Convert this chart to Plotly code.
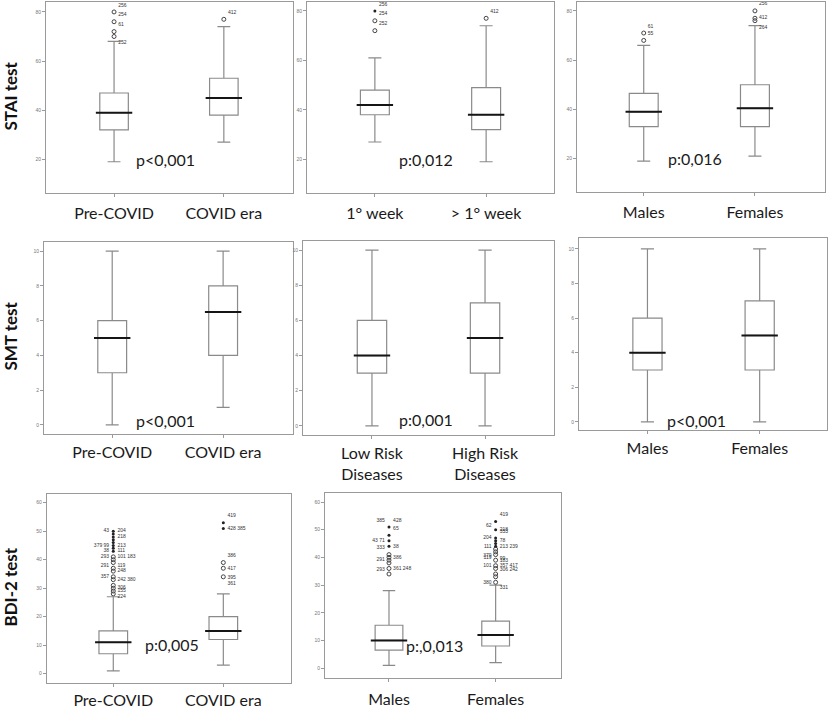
import plotly.graph_objects as go

W, H = 829, 709

# ---------------- DATA ----------------
# Row 1: STAI test
p1_cats = ["Pre-COVID", "COVID era"]
p1_low = [19, 27]
p1_q1 = [32, 38]
p1_med = [39, 45]
p1_q3 = [47, 53]
p1_high = [68, 74]
p1_mild = [[70, 72, 76, 80], [77]]
p1_ext = [[], []]
p1_labels = [[(70, "252", "bottom right"), (72, "61", "top right"), (76, "254", "top right"), (80, "256", "top right")],
             [(77, "412", "top right")]]

p2_cats = ["1° week", "> 1° week"]
p2_low = [27, 19]
p2_q1 = [38, 32]
p2_med = [42, 38]
p2_q3 = [48, 49]
p2_high = [61, 74]
p2_mild = [[72, 76], [77]]
p2_ext = [[80], []]
p2_labels = [[(72, "252", "top right"), (76, "254", "top right"), (80, "256", "top right")],
             [(77, "412", "top right")]]

p3_cats = ["Males", "Females"]
p3_low = [19, 21]
p3_q1 = [33, 33]
p3_med = [39, 40.5]
p3_q3 = [46.5, 50]
p3_high = [66, 74]
p3_mild = [[68, 71], [76, 77, 80]]
p3_ext = [[], []]
p3_labels = [[(68, "55", "top right"), (71, "61", "top right")],
             [(76, "264", "bottom right"), (77, "412", "middle right"), (80, "256", "top right")]]

# Row 2: SMT test
p4_cats = ["Pre-COVID", "COVID era"]
p4_low = [0, 1]
p4_q1 = [3, 4]
p4_med = [5, 6.5]
p4_q3 = [6, 8]
p4_high = [10, 10]

p5_cats = ["Low Risk<br>Diseases", "High Risk<br>Diseases"]
p5_low = [0, 0]
p5_q1 = [3, 3]
p5_med = [4, 5]
p5_q3 = [6, 7]
p5_high = [10, 10]

p6_cats = ["Males", "Females"]
p6_low = [0, 0]
p6_q1 = [3, 3]
p6_med = [4, 5]
p6_q3 = [6, 7]
p6_high = [10, 10]

# Row 3: BDI-2 test
p7_cats = ["Pre-COVID", "COVID era"]
p7_low = [1, 3]
p7_q1 = [7, 12]
p7_med = [11, 15]
p7_q3 = [15, 20]
p7_high = [27, 28]
p7_mild = [[28, 29, 30, 31, 33, 34, 36, 37, 39, 40, 41], [34, 37, 39]]
p7_ext = [[43, 44, 45, 46, 47, 48, 49, 50], [51, 53]]
p7_labels = [[(50, "43", "middle left"), (50, "204", "middle right"), (48, "218", "middle right"),
              (45, "379 99", "middle left"), (45, "213", "middle right"), (43, "38", "middle left"),
              (43, "111", "middle right"), (41, "293", "middle left"), (41, "101 183", "middle right"),
              (38, "291", "middle left"), (38, "119", "middle right"), (36, "248", "middle right"),
              (34, "357", "middle left"), (33, "242 380", "middle right"), (30, "306", "middle right"),
              (29, "155", "middle right"), (27, "224", "middle right")],
             [(53, "419", "top right"), (51, "428 385", "middle right"), (39, "386", "top right"),
              (37, "417", "middle right"), (36, "395", "bottom right"), (34, "361", "bottom right")]]

p8_cats = ["Males", "Females"]
p8_low = [1, 2]
p8_q1 = [6.5, 8]
p8_med = [10, 12]
p8_q3 = [15.5, 17]
p8_high = [28, 30]
p8_mild = [[34, 36, 38, 39, 40, 41], [31, 33, 34, 36, 37, 39, 41, 42, 43]]
p8_ext = [[44, 46, 48, 51], [44, 45, 46, 47, 50, 53]]
p8_labels = [[(51, "385", "top left"), (51, "428", "top right"), (48, "65", "top right"),
              (46, "43 71", "middle left"), (44, "38", "middle right"), (41, "333", "top left"),
              (40, "386", "middle right"), (39, "291", "middle left"), (38, "293", "bottom left"),
              (36, "361 248", "middle right")],
             [(53, "419", "top right"), (50, "218", "middle right"), (49, "62", "top left"),
              (47, "204", "middle left"), (47, "353", "top right"), (46, "78", "middle right"),
              (44, "111", "middle left"), (43, "379", "bottom left"), (44, "213 239", "middle right"),
              (42, "99", "bottom right"), (40, "119", "middle left"), (41, "183", "bottom right"),
              (37, "101", "middle left"), (37, "357 417", "middle right"), (33, "306 242", "top right"),
              (31, "380", "middle left"), (29, "331", "middle right")]]

p_texts = ["p<0,001", "p:0,012", "p:0,016", "p<0,001", "p:0,001", "p<0,001", "p:0,005", "p:,0,013"]
row_titles = ["STAI test", "SMT test", "BDI-2 test"]

# ---------------- LAYOUT CONFIG ----------------
panels = [
    dict(cats=p1_cats, low=p1_low, q1=p1_q1, med=p1_med, q3=p1_q3, high=p1_high, mild=p1_mild, ext=p1_ext, labels=p1_labels,
         px=(46, 293), py=(2, 194), xr=[-0.62, 1.63], yr=[6.2, 84.05], ticks=[20, 40, 60, 80], p=(0.47, 20), stand=3),
    dict(cats=p2_cats, low=p2_low, q1=p2_q1, med=p2_med, q3=p2_q3, high=p2_high, mild=p2_mild, ext=p2_ext, labels=p2_labels,
         px=(307, 554), py=(2, 194), xr=[-0.61, 1.61], yr=[6.3, 83.6], ticks=[20, 40, 60, 80], p=(0.46, 20), stand=3),
    dict(cats=p3_cats, low=p3_low, q1=p3_q1, med=p3_med, q3=p3_q3, high=p3_high, mild=p3_mild, ext=p3_ext, labels=p3_labels,
         px=(577, 825), py=(2, 193), xr=[-0.60, 1.63], yr=[6.4, 83.6], ticks=[20, 40, 60, 80], p=(0.46, 20), stand=3),
    dict(cats=p4_cats, low=p4_low, q1=p4_q1, med=p4_med, q3=p4_q3, high=p4_high, mild=None, ext=None, labels=None,
         px=(44, 293), py=(242.7, 435.7), xr=[-0.615, 1.63], yr=[-0.52, 10.55], ticks=[0, 2, 4, 6, 8, 10], p=(0.48, 0.25), stand=1),
    dict(cats=p5_cats, low=p5_low, q1=p5_q1, med=p5_med, q3=p5_q3, high=p5_high, mild=None, ext=None, labels=None,
         px=(303, 554), py=(241.7, 437), xr=[-0.61, 1.61], yr=[-0.53, 10.54], ticks=[0, 2, 4, 6, 8, 10], p=(0.48, 0.34), stand=1),
    dict(cats=p6_cats, low=p6_low, q1=p6_q1, med=p6_med, q3=p6_q3, high=p6_high, mild=None, ext=None, labels=None,
         px=(579, 827), py=(239, 432), xr=[-0.61, 1.60], yr=[-0.48, 10.63], ticks=[0, 2, 4, 6, 8, 10], p=(0.44, 0.08), stand=1),
    dict(cats=p7_cats, low=p7_low, q1=p7_q1, med=p7_med, q3=p7_q3, high=p7_high, mild=p7_mild, ext=p7_ext, labels=p7_labels,
         px=(46.7, 291), py=(496, 686), xr=[-0.605, 1.615], yr=[-3.3, 63.1], ticks=[0, 10, 20, 30, 40, 50, 60], p=(0.53, 10.3), stand=0),
    dict(cats=p8_cats, low=p8_low, q1=p8_q1, med=p8_med, q3=p8_q3, high=p8_high, mild=p8_mild, ext=p8_ext, labels=p8_labels,
         px=(325, 560.7), py=(495, 680.7), xr=[-0.60, 1.61], yr=[-3.5, 63.3], ticks=[0, 10, 20, 30, 40, 50, 60], p=(0.43, 8.3), stand=4),
]

BOX_LINE = "#8a8a8a"
FRAME = "#9a9a9a"
FONT = "Lato"

fig = go.Figure()
annotations = []
layout_axes = {}

for i, pn in enumerate(panels, start=1):
    xa = "x" if i == 1 else f"x{i}"
    ya = "y" if i == 1 else f"y{i}"
    cats = pn["cats"]
    # Boxes
    fig.add_trace(go.Box(
        x=cats, q1=pn["q1"], median=pn["med"], q3=pn["q3"],
        lowerfence=pn["low"], upperfence=pn["high"],
        width=0.26, whiskerwidth=0.45,
        fillcolor="white", line=dict(color=BOX_LINE, width=1.2),
        boxpoints=False, showlegend=False, hoverinfo="skip",
        xaxis=xa, yaxis=ya,
    ))
    # Black median lines
    fig.add_trace(go.Scatter(
        x=cats, y=pn["med"], mode="markers",
        marker=dict(symbol="line-ew", size=26, line=dict(color="#151515", width=2)),
        showlegend=False, hoverinfo="skip", xaxis=xa, yaxis=ya,
    ))
    # Outliers
    if pn["mild"]:
        for c, vals in zip(cats, pn["mild"]):
            if vals:
                fig.add_trace(go.Scatter(
                    x=[c] * len(vals), y=vals, mode="markers",
                    marker=dict(symbol="circle-open", size=4, color="#444", line=dict(width=1)),
                    showlegend=False, hoverinfo="skip", xaxis=xa, yaxis=ya,
                ))
        for c, vals in zip(cats, pn["ext"]):
            if vals:
                fig.add_trace(go.Scatter(
                    x=[c] * len(vals), y=vals, mode="markers",
                    marker=dict(symbol="circle", size=3, color="#222"),
                    showlegend=False, hoverinfo="skip", xaxis=xa, yaxis=ya,
                ))
        for c, labs in zip(cats, pn["labels"]):
            if labs:
                fig.add_trace(go.Scatter(
                    x=[c] * len(labs), y=[l[0] for l in labs], text=[l[1] for l in labs],
                    textposition=[l[2] for l in labs], mode="markers+text",
                    marker=dict(size=5, opacity=0),
                    textfont=dict(family="Liberation Sans", size=5, color="#333"),
                    showlegend=False, hoverinfo="skip", xaxis=xa, yaxis=ya,
                ))
    # Axes
    x0, x1 = pn["px"]
    y0, y1 = pn["py"]
    layout_axes["xaxis" if i == 1 else f"xaxis{i}"] = dict(
        domain=[x0 / W, x1 / W], anchor=ya, type="category", range=pn["xr"],
        categoryorder="array", categoryarray=cats,
        showline=True, mirror=True, linecolor=FRAME, linewidth=1,
        ticks="outside", ticklen=3, tickcolor=FRAME, showgrid=False, zeroline=False,
        tickfont=dict(family=FONT, size=16, color="#1a1a1a"), ticklabelstandoff=pn["stand"],
    )
    layout_axes["yaxis" if i == 1 else f"yaxis{i}"] = dict(
        domain=[1 - y1 / H, 1 - y0 / H], anchor=xa, range=pn["yr"],
        tickvals=pn["ticks"], showline=True, mirror=True, linecolor=FRAME, linewidth=1,
        ticks="outside", ticklen=3, tickcolor=FRAME, showgrid=False, zeroline=False,
        tickfont=dict(family="Liberation Sans", size=5, color="#777"),
    )
    annotations.append(dict(
        x=pn["p"][0], y=pn["p"][1], xref=xa, yref=ya, text=p_texts[i - 1], showarrow=False,
        font=dict(family=FONT, size=16, color="#1a1a1a"), xanchor="center", yanchor="middle",
    ))

for title, yc in zip(row_titles, [97, 338, 590]):
    annotations.append(dict(
        x=11 / W, y=1 - yc / H, xref="paper", yref="paper", text=f"<b>{title}</b>",
        textangle=-90, showarrow=False, xanchor="center", yanchor="middle",
        font=dict(family=FONT, size=17, color="#111"),
    ))

fig.update_layout(
    width=W, height=H, margin=dict(l=0, r=0, t=0, b=0),
    paper_bgcolor="white", plot_bgcolor="white", showlegend=False,
    annotations=annotations, **layout_axes,
)

fig.write_html("out.html", config={"displayModeBar": False},
               post_script="document.body.style.margin='0';document.body.style.padding='0';document.body.style.overflow='hidden';")
